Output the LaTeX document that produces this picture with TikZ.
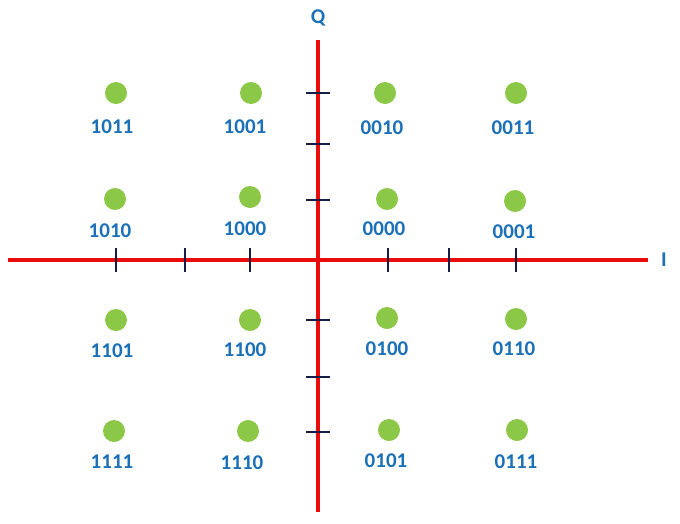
\documentclass[tikz,border=0pt]{standalone}
\usepackage{fontspec}
\setmainfont{Carlito}
\begin{document}
\begin{tikzpicture}[x=1pt,y=-1pt]
  % Define colors
  \definecolor{axiscolor}{RGB}{232,12,12}
  \definecolor{tickcolor}{RGB}{22,30,72}
  \definecolor{dotcolor}{RGB}{140,200,72}
  \definecolor{labelcolor}{RGB}{28,112,184}

  \useasboundingbox (0,0) rectangle (680,523);

  % Axes
  \coordinate (ileft) at (8,260);
  \coordinate (iright) at (648,260);
  \coordinate (qtop) at (318,40);
  \coordinate (qbottom) at (318,512);
  \draw[axiscolor,line width=3.6pt] (ileft) -- (iright);
  \draw[axiscolor,line width=3.6pt] (qtop) -- (qbottom);
  \node[labelcolor,font=\fontsize{21}{21}\selectfont\bfseries] (ilabel) at (664,260) {I};
  \node[labelcolor,font=\fontsize{21}{21}\selectfont\bfseries] (qlabel) at (318,18) {Q};

  % Tick marks
  \foreach \x in {116,185,250,388,449,516} {
    \draw[tickcolor,line width=1.8pt] (\x,248) -- (\x,272);
  }
  \foreach \y in {93,144,200,320,377,432} {
    \draw[tickcolor,line width=1.8pt] (306,\y) -- (330,\y);
  }

  % Constellation points
  \foreach \x/\y/\lx/\ly/\bits in {
      116/93/112/127/1011, 251/93/245/127/1001, 385/93/382/128/0010, 516/93/513/128/0011,
      115/199/110/231/1010, 250/197/245/229/1000, 387/199/384/229/0000, 515/201/514/232/0001,
      116/320/112/351/1101, 250/320/245/350/1100, 387/318/387/349/0100, 516/319/514/349/0110,
      114/431/112/462/1111, 248/431/242/463/1110, 389/430/386/461/0101, 517/430/516/462/0111} {
    \node[circle,fill=dotcolor,minimum size=22pt,inner sep=0pt] (dot\bits) at (\x,\y) {};
    \node[labelcolor,font=\fontsize{21}{21}\selectfont\bfseries] (label\bits) at (\lx,\ly) {\bits};
  }

\end{tikzpicture}
\end{document}
